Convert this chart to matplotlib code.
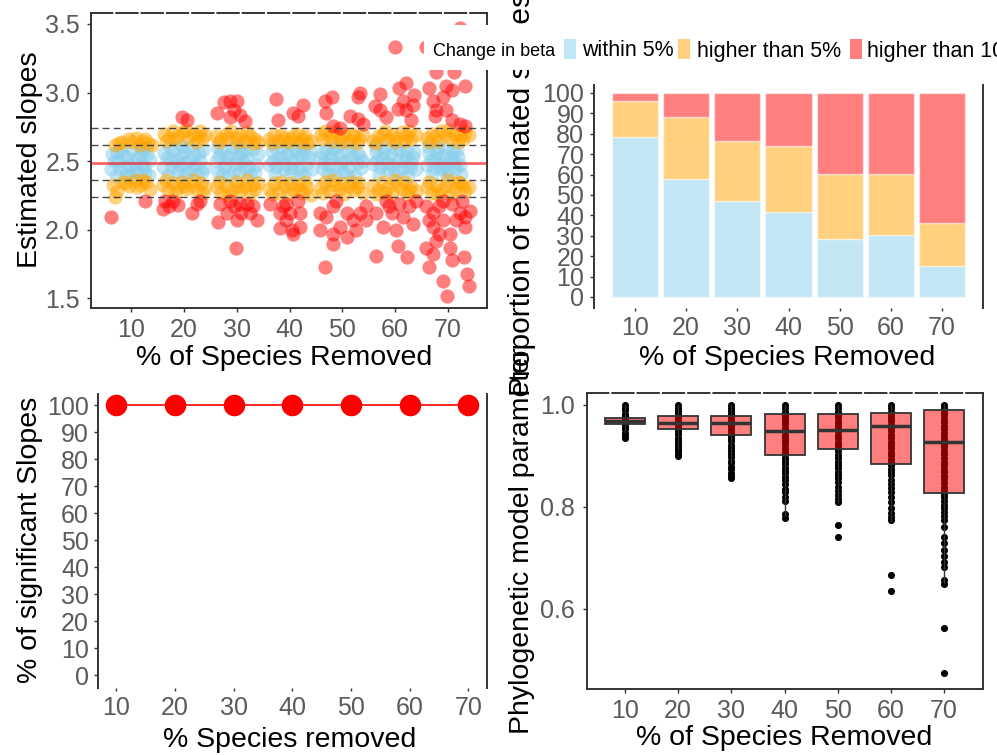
import matplotlib
matplotlib.use('Agg')
import matplotlib.pyplot as plt
from matplotlib.patches import Rectangle

plt.rcParams['font.family'] = ['Liberation Sans', 'DejaVu Sans']

# ---------------- data ----------------
removed = [10, 20, 30, 40, 50, 60, 70]

# panel A: estimated slopes (jittered x, slope)
slope_ref = 2.49
slope_bands = [2.24, 2.365, 2.615, 2.74]

blue_pts = [
    (6.1, 2.44), (6.4, 2.55), (7.2, 2.39), (7.6, 2.50), (8.1, 2.59), (8.8, 2.45), (9.3, 2.53), (9.9, 2.40),
    (10.2, 2.58), (10.8, 2.48), (11.3, 2.42), (11.9, 2.55), (12.4, 2.46), (12.9, 2.60), (13.3, 2.40), (13.6, 2.51),
    (6.8, 2.50), (7.9, 2.44), (8.6, 2.54), (9.6, 2.47), (10.5, 2.43), (11.1, 2.52), (12.0, 2.48), (12.7, 2.42),
    (13.1, 2.55), (7.3, 2.57), (11.8, 2.59), (9.0, 2.40),
    (16.0, 2.46), (16.3, 2.56), (17.0, 2.40), (17.5, 2.51), (18.2, 2.59), (18.7, 2.43), (19.4, 2.54), (19.8, 2.39),
    (20.3, 2.49), (20.9, 2.60), (21.4, 2.44), (21.9, 2.55), (22.5, 2.41), (23.0, 2.50), (23.6, 2.58), (24.0, 2.45),
    (16.7, 2.52), (17.8, 2.46), (18.5, 2.51), (19.1, 2.47), (20.0, 2.57), (20.6, 2.42), (21.2, 2.51), (22.1, 2.47),
    (22.8, 2.56), (23.4, 2.42), (17.3, 2.60), (19.6, 2.61),
    (26.0, 2.50), (26.4, 2.42), (27.0, 2.58), (27.5, 2.46), (28.1, 2.54), (28.6, 2.39), (29.2, 2.60), (29.8, 2.48),
    (30.4, 2.42), (30.9, 2.56), (31.5, 2.45), (32.0, 2.52), (32.6, 2.40), (33.1, 2.59), (33.7, 2.47), (34.0, 2.55),
    (26.7, 2.54), (27.3, 2.40), (27.9, 2.49), (28.9, 2.55), (29.5, 2.43), (30.2, 2.53), (31.2, 2.50), (31.8, 2.58),
    (32.3, 2.46), (33.4, 2.42), (26.2, 2.60), (30.7, 2.61),
    (36.2, 2.47), (36.6, 2.57), (37.2, 2.41), (37.8, 2.52), (38.3, 2.60), (38.9, 2.44), (39.5, 2.55), (40.0, 2.40),
    (40.6, 2.50), (41.1, 2.59), (41.7, 2.45), (42.2, 2.54), (42.8, 2.40), (43.3, 2.49), (43.9, 2.58), (44.2, 2.44),
    (36.9, 2.50), (37.5, 2.46), (38.6, 2.52), (39.2, 2.48), (39.8, 2.59), (40.3, 2.45), (41.4, 2.52), (42.0, 2.42),
    (42.5, 2.58), (43.6, 2.53), (37.0, 2.61), (41.9, 2.61),
    (45.8, 2.52), (46.3, 2.44), (46.9, 2.59), (47.4, 2.47), (48.0, 2.55), (48.6, 2.40), (49.1, 2.61), (49.7, 2.49),
    (50.2, 2.42), (50.8, 2.57), (51.3, 2.46), (51.9, 2.53), (52.4, 2.39), (53.0, 2.56), (53.5, 2.45), (54.0, 2.50),
    (46.1, 2.56), (46.6, 2.49), (47.7, 2.52), (48.3, 2.59), (48.9, 2.46), (49.4, 2.54), (50.5, 2.50), (51.1, 2.40),
    (51.6, 2.60), (52.7, 2.49), (53.3, 2.53), (47.2, 2.41),
    (55.9, 2.48), (56.3, 2.57), (56.9, 2.41), (57.5, 2.52), (58.1, 2.60), (58.6, 2.44), (59.2, 2.55), (59.8, 2.40),
    (60.3, 2.50), (60.9, 2.58), (61.4, 2.45), (62.0, 2.53), (62.5, 2.39), (63.1, 2.49), (63.6, 2.57), (64.0, 2.44),
    (56.6, 2.51), (57.2, 2.46), (57.8, 2.56), (58.4, 2.49), (59.5, 2.47), (60.1, 2.59), (60.6, 2.43), (61.7, 2.50),
    (62.3, 2.58), (62.8, 2.45), (63.4, 2.53), (56.1, 2.61),
    (66.0, 2.47), (66.4, 2.56), (67.0, 2.41), (67.6, 2.52), (68.2, 2.60), (68.7, 2.44), (69.3, 2.54), (69.8, 2.39),
    (70.4, 2.50), (70.9, 2.58), (71.5, 2.45), (72.0, 2.53), (72.4, 2.41),
    (66.7, 2.51), (67.3, 2.45), (67.9, 2.56), (68.5, 2.49), (69.0, 2.46), (69.6, 2.59), (70.1, 2.43), (70.7, 2.53),
    (71.2, 2.49), (71.8, 2.58), (66.2, 2.61), (72.2, 2.47),
]

orange_pts = [
    (7.0, 2.62), (8.3, 2.64), (9.6, 2.66), (10.9, 2.67), (12.1, 2.65), (13.2, 2.63), (11.6, 2.62), (14.0, 2.62),
    (7.7, 2.63), (10.2, 2.64), (12.7, 2.66),
    (6.5, 2.33), (7.3, 2.28), (8.4, 2.35), (9.6, 2.32), (10.7, 2.36), (11.8, 2.33), (12.9, 2.35), (13.6, 2.30), (7.0, 2.24),
    (9.0, 2.34), (11.2, 2.31), (12.3, 2.36),
    (16.2, 2.70), (17.1, 2.67), (18.0, 2.72), (18.9, 2.68), (19.8, 2.71), (20.8, 2.67), (21.7, 2.70), (22.6, 2.68), (23.5, 2.66), (24.0, 2.69),
    (16.6, 2.65), (18.4, 2.66), (20.3, 2.73), (22.2, 2.64), (23.1, 2.72),
    (16.1, 2.33), (17.0, 2.29), (17.9, 2.34), (18.8, 2.31), (19.7, 2.35), (20.6, 2.30), (21.5, 2.33), (22.4, 2.29), (23.3, 2.34), (24.0, 2.31),
    (16.6, 2.36), (18.3, 2.27), (20.1, 2.32), (21.9, 2.36), (23.7, 2.27),
    (26.1, 2.68), (27.0, 2.66), (28.0, 2.70), (28.9, 2.72), (29.8, 2.67), (30.7, 2.69), (31.6, 2.65), (32.5, 2.68), (33.4, 2.66), (34.0, 2.64),
    (26.6, 2.64), (28.4, 2.67), (30.2, 2.64), (32.0, 2.71), (33.0, 2.63),
    (26.2, 2.31), (27.1, 2.27), (28.0, 2.33), (28.9, 2.29), (29.8, 2.35), (30.7, 2.28), (31.6, 2.32), (32.5, 2.26), (33.4, 2.30), (34.0, 2.34),
    (26.6, 2.35), (28.4, 2.25), (30.2, 2.31), (32.0, 2.36), (33.0, 2.33),
    (36.2, 2.66), (37.1, 2.69), (38.0, 2.65), (38.9, 2.67), (39.8, 2.64), (40.7, 2.68), (41.6, 2.70), (42.5, 2.66), (43.4, 2.63), (44.0, 2.65),
    (36.6, 2.63), (38.4, 2.69), (40.2, 2.66), (42.0, 2.64), (43.0, 2.68),
    (36.2, 2.30), (37.1, 2.34), (38.0, 2.27), (38.9, 2.32), (39.8, 2.26), (40.7, 2.30), (41.6, 2.33), (42.5, 2.27), (43.4, 2.31), (44.0, 2.25),
    (36.6, 2.26), (38.4, 2.35), (40.2, 2.34), (42.0, 2.29), (43.0, 2.35),
    (45.9, 2.70), (46.8, 2.72), (47.7, 2.68), (48.6, 2.71), (49.5, 2.67), (50.4, 2.70), (51.3, 2.65), (52.2, 2.68), (53.1, 2.66), (53.9, 2.69),
    (46.3, 2.66), (48.1, 2.65), (50.0, 2.64), (51.8, 2.70), (52.7, 2.63),
    (45.9, 2.31), (46.8, 2.35), (47.7, 2.28), (48.6, 2.33), (49.5, 2.30), (50.4, 2.26), (51.3, 2.32), (52.2, 2.29), (53.1, 2.34), (53.9, 2.27),
    (46.3, 2.27), (48.1, 2.36), (50.0, 2.34), (51.8, 2.35), (52.7, 2.31),
    (55.9, 2.65), (56.8, 2.68), (57.7, 2.70), (58.6, 2.66), (59.5, 2.69), (60.4, 2.67), (61.3, 2.71), (62.2, 2.68), (63.1, 2.66), (64.0, 2.69),
    (56.3, 2.63), (58.1, 2.72), (60.0, 2.64), (61.8, 2.65), (62.7, 2.72),
    (55.9, 2.33), (56.8, 2.29), (57.7, 2.35), (58.6, 2.31), (59.5, 2.27), (60.4, 2.33), (61.3, 2.30), (62.2, 2.26), (63.1, 2.32), (64.0, 2.28),
    (56.3, 2.26), (58.1, 2.27), (60.0, 2.36), (61.8, 2.35), (62.7, 2.29),
    (66.0, 2.67), (66.9, 2.70), (67.8, 2.68), (68.7, 2.72), (69.6, 2.69), (70.5, 2.66), (71.4, 2.70), (72.3, 2.68), (73.2, 2.71), (74.0, 2.69),
    (66.4, 2.64), (68.2, 2.65), (70.0, 2.73), (71.9, 2.64), (72.8, 2.66),
    (66.0, 2.31), (66.9, 2.27), (67.8, 2.33), (68.7, 2.29), (69.6, 2.32), (70.5, 2.26), (71.4, 2.30), (72.3, 2.34), (73.2, 2.28), (74.0, 2.31),
    (66.4, 2.35), (68.2, 2.26), (70.0, 2.36), (71.9, 2.35), (72.8, 2.32),
]

red_pts = [
    (6.2, 2.09), (12.6, 2.21),
    (19.6, 2.82), (20.5, 2.80), (16.4, 2.21), (17.1, 2.17), (18.0, 2.21), (18.9, 2.18), (21.5, 2.12), (22.4, 2.19),
    (23.0, 2.21), (16.1, 2.15),
    (26.2, 2.85), (27.5, 2.93), (28.7, 2.94), (30.0, 2.94), (29.4, 2.87), (28.7, 2.82), (30.6, 2.84), (31.6, 2.79),
    (29.9, 1.87), (26.5, 2.06), (28.1, 2.12), (29.4, 2.17), (30.6, 2.19), (30.0, 2.07), (32.5, 2.12), (33.8, 2.07),
    (31.9, 2.19), (26.8, 2.19), (28.7, 2.21), (33.1, 2.17), (30.9, 2.12),
    (37.5, 2.95), (37.8, 2.80), (40.7, 2.85), (42.6, 2.91), (41.6, 2.83), (36.3, 2.19), (38.2, 2.12), (39.4, 2.07),
    (38.2, 2.01), (40.7, 1.97), (42.0, 2.02), (40.1, 2.12), (41.6, 2.21), (42.0, 2.12), (39.4, 2.19), (40.4, 2.00),
    (38.8, 2.17),
    (46.7, 2.94), (48.0, 2.97), (46.9, 2.85), (48.2, 2.76), (49.5, 2.74), (51.4, 2.83), (53.0, 2.81), (53.3, 3.00),
    (53.0, 2.97), (53.9, 2.77), (46.7, 1.73), (48.2, 1.90), (50.8, 1.95), (45.7, 2.00), (46.9, 2.09), (48.2, 2.17),
    (48.8, 2.21), (50.8, 2.12), (52.0, 2.07), (53.3, 2.12), (52.6, 2.00), (49.5, 2.02), (54.5, 2.17), (45.7, 2.12),
    (48.2, 1.97),
    (57.1, 2.99), (56.1, 2.90), (57.1, 2.87), (58.3, 2.82), (60.5, 2.88), (61.5, 2.94), (62.1, 3.07), (60.8, 3.03),
    (63.6, 2.98), (63.3, 2.91), (62.1, 2.87), (63.1, 2.80), (56.4, 1.81), (60.6, 1.88), (62.3, 1.80), (54.5, 2.07),
    (56.4, 2.12), (57.7, 2.02), (58.9, 2.17), (60.2, 2.00), (61.5, 2.09), (62.7, 2.17), (63.4, 2.04), (58.3, 2.21),
    (60.8, 2.19), (64.0, 2.21), (59.5, 2.12), (59.9, 3.33),
    (72.2, 3.47), (65.8, 3.33), (67.8, 3.15), (71.2, 3.15), (66.5, 3.03), (69.6, 3.05), (70.8, 3.02), (73.3, 3.05),
    (67.1, 2.94), (69.0, 2.97), (69.6, 2.87), (67.8, 2.87), (67.5, 2.83), (72.2, 2.77), (70.8, 2.80), (73.3, 2.76),
    (65.9, 2.17), (67.2, 2.12), (69.0, 2.21), (70.8, 2.19), (72.7, 2.21), (74.1, 2.14), (67.2, 2.02), (68.4, 1.97),
    (65.9, 1.87), (67.2, 1.82), (66.5, 1.73), (69.0, 1.63), (69.9, 1.52), (70.8, 1.78), (73.0, 1.80), (73.7, 1.68),
    (74.0, 1.59), (70.3, 1.97), (71.5, 2.07), (73.3, 2.02), (69.0, 2.07), (67.8, 1.92), (70.3, 1.87), (72.2, 2.12),
    (66.5, 2.07), (68.4, 2.17), (73.3, 2.09),
]

# panel B: proportion of estimated slopes (%)
pct_within5 = [78.3, 57.8, 47.2, 41.7, 28.4, 30.2, 15.0]
pct_higher5 = [17.9, 30.4, 29.3, 32.2, 32.1, 30.3, 21.4]
pct_higher10 = [3.8, 11.8, 23.5, 26.1, 39.5, 39.5, 63.6]

# panel C: % of significant slopes
pct_signif = [100, 100, 100, 100, 100, 100, 100]

# panel D: phylogenetic model parameter
lam_q1 = [0.963, 0.952, 0.941, 0.902, 0.913, 0.884, 0.827]
lam_med = [0.969, 0.965, 0.965, 0.948, 0.951, 0.959, 0.927]
lam_q3 = [0.974, 0.978, 0.978, 0.982, 0.982, 0.985, 0.991]
lam_lo = [0.947, 0.913, 0.886, 0.782, 0.810, 0.773, 0.650]
lam_hi = [1.0, 1.0, 1.0, 1.0, 1.0, 1.0, 1.0]
lam_pts = [
    [1.0, 0.994, 0.99, 0.983, 0.979, 0.972, 0.968, 0.963, 0.957, 0.953, 0.946, 0.941, 0.935],
    [1.0, 0.995, 0.989, 0.984, 0.977, 0.972, 0.966, 0.961, 0.955, 0.948, 0.943, 0.936, 0.931, 0.925,
     0.919, 0.914, 0.909, 0.904, 0.9],
    [1.0, 0.994, 0.988, 0.983, 0.977, 0.97, 0.965, 0.959, 0.952, 0.947, 0.94, 0.934, 0.929, 0.922,
     0.916, 0.91, 0.903, 0.898, 0.891, 0.886, 0.879, 0.874, 0.866, 0.861, 0.857],
    [1.0, 0.994, 0.987, 0.981, 0.975, 0.968, 0.962, 0.955, 0.949, 0.942, 0.936, 0.929, 0.923, 0.916,
     0.91, 0.903, 0.897, 0.89, 0.884, 0.877, 0.871, 0.866, 0.859, 0.852, 0.846, 0.836, 0.829, 0.82,
     0.812, 0.787, 0.779],
    [1.0, 0.994, 0.987, 0.98, 0.974, 0.967, 0.961, 0.954, 0.948, 0.941, 0.935, 0.928, 0.922, 0.915,
     0.909, 0.902, 0.896, 0.889, 0.882, 0.876, 0.869, 0.862, 0.856, 0.849, 0.84, 0.831, 0.824, 0.816,
     0.809, 0.765, 0.742],
    [1.0, 0.994, 0.987, 0.981, 0.974, 0.968, 0.961, 0.954, 0.948, 0.941, 0.935, 0.928, 0.921, 0.915,
     0.908, 0.902, 0.895, 0.888, 0.882, 0.875, 0.869, 0.862, 0.853, 0.846, 0.837, 0.829, 0.82, 0.809,
     0.797, 0.789, 0.781, 0.774, 0.666, 0.635],
    [1.0, 0.994, 0.987, 0.98, 0.973, 0.966, 0.959, 0.952, 0.945, 0.938, 0.931, 0.924, 0.917, 0.91,
     0.903, 0.896, 0.889, 0.882, 0.875, 0.868, 0.861, 0.854, 0.847, 0.84, 0.833, 0.826, 0.819, 0.811,
     0.804, 0.797, 0.79, 0.782, 0.775, 0.761, 0.742, 0.729, 0.716, 0.703, 0.693, 0.683, 0.657, 0.649,
     0.562, 0.474],
]

bar_cols = ['skyblue', 'orange', 'red']
legend_labels = ['within 5%', 'higher than 5%', 'higher than 10%']

# ---------------- figure ----------------
W, H = 997, 755
fig = plt.figure(figsize=(W / 100, H / 100), dpi=100)

spine_c = '#333333'
tick_c = '#5a5a5a'


def px_axes(l, t, r, b):
    return fig.add_axes([l / W, 1 - b / H, (r - l) / W, (b - t) / H])


def style(ax, ypad, xpad=4):
    ax.tick_params(axis='both', length=3, width=1, color=spine_c, labelcolor=tick_c, labelsize=18)
    ax.tick_params(axis='y', pad=ypad)
    ax.tick_params(axis='x', pad=xpad)
    for s in ax.spines.values():
        s.set_color(spine_c)
        s.set_linewidth(1.4)
    ax.set_xticks(removed)
    ax.set_facecolor('none')


def ftext(x, y, s, **kw):
    fig.text(x / W, 1 - y / H, s, **kw)


# A: estimated slopes
ax1 = px_axes(91, 13, 487, 308)
ax1.scatter([p[0] for p in blue_pts], [p[1] for p in blue_pts], s=105, color='skyblue', alpha=0.5, lw=0)
ax1.scatter([p[0] for p in orange_pts], [p[1] for p in orange_pts], s=105, color='orange', alpha=0.5, lw=0)
ax1.scatter([p[0] for p in red_pts], [p[1] for p in red_pts], s=105, color='red', alpha=0.5, lw=0)
ax1.axhline(slope_ref, color='red', lw=2, alpha=0.6)
for v in slope_bands:
    ax1.axhline(v, color='#333333', lw=1, ls=(0, (5, 3)), alpha=0.9)
ax1.set_xlim(2.4, 77.4)
ax1.set_ylim(1.43, 3.58)
ax1.set_yticks([1.5, 2.0, 2.5, 3.0, 3.5])
style(ax1, ypad=5)
ax1.spines['top'].set_linestyle((0, (11, 2)))

# B: proportion bars
ax2 = px_axes(594, 85, 983, 308)
bottom = [0] * 7
for vals, c in zip([pct_within5, pct_higher5, pct_higher10], bar_cols):
    ax2.bar(removed, vals, width=9.0, bottom=bottom, color=c, alpha=0.5, edgecolor='white', lw=1)
    bottom = [b + v for b, v in zip(bottom, vals)]
ax2.set_xlim(2, 78)
ax2.set_ylim(-5.4, 103.9)
ax2.set_yticks(range(0, 101, 10))
style(ax2, ypad=4)
ax2.spines['top'].set_visible(False)
ax2.spines['bottom'].set_visible(False)
ax2.tick_params(axis='x', length=2)

# C: % significant slopes
ax3 = px_axes(98, 394, 487, 688)
ax3.plot(removed, pct_signif, color='red', lw=1.2, marker='o', ms=14.5, mec='red', mfc='red', clip_on=False)
ax3.set_xlim(6.9, 73.2)
ax3.set_ylim(-4.8, 104.1)
ax3.set_yticks(range(0, 101, 10))
style(ax3, ypad=3.5)
ax3.spines['top'].set_visible(False)
ax3.spines['bottom'].set_visible(False)
ax3.tick_params(axis='x', length=2)

# D: phylogenetic model parameter
ax4 = px_axes(587, 393, 983, 689)
for x, pts in zip(removed, lam_pts):
    ax4.scatter([x] * len(pts), pts, s=26, color='black', lw=0, zorder=1)
stats = []
for i in range(7):
    stats.append(dict(q1=lam_q1[i], med=lam_med[i], q3=lam_q3[i], whislo=lam_lo[i], whishi=lam_hi[i], fliers=[]))
ax4.bxp(stats, positions=removed, widths=7.5, patch_artist=True, showfliers=False, showcaps=False,
        boxprops=dict(facecolor=(1, 0, 0, 0.5), edgecolor=spine_c, lw=1.3),
        medianprops=dict(color=spine_c, lw=2.5),
        whiskerprops=dict(color=spine_c, lw=1), manage_ticks=False)
ax4.set_xlim(2.86, 77.3)
ax4.set_ylim(0.443, 1.0235)
ax4.set_yticks([0.6, 0.8, 1.0])
style(ax4, ypad=6)
ax4.spines['top'].set_linestyle((0, (11, 2)))

# axis titles
tkw = dict(fontsize=20.5, color='black', ha='center', va='center')
ftext(284, 358, '% of Species Removed', **tkw)
ftext(30, 160, 'Estimated slopes', rotation=90, **tkw)
ftext(787, 358, '% of Species Removed', **tkw)
ftext(522, 194, 'Proportion of estimated slopes', rotation=90, **dict(tkw, fontsize=21.5))
ftext(290, 740, '% Species removed', **tkw)
ftext(30, 540, '% of significant Slopes', rotation=90, **tkw)
ftext(784, 738, '% of Species Removed', **tkw)
ftext(522, 541, 'Phylogenetic model parameter', rotation=90, **tkw)

# legend (drawn on top, white background)
fig.add_artist(Rectangle((424 / W, 1 - 70 / H), (1000 - 424) / W, 45 / H, transform=fig.transFigure,
                         facecolor='white', edgecolor='none', zorder=10))
ftext(433, 51, 'Change in beta', fontsize=13, va='center', zorder=11)
for kx, tx, c, lab in zip([564, 678, 850], [582, 697, 867], bar_cols, legend_labels):
    fig.add_artist(Rectangle((kx / W, 1 - 59 / H), 12 / W, 20 / H, transform=fig.transFigure,
                             facecolor=c, alpha=0.5, edgecolor='none', zorder=11))
    ftext(tx, 51, lab, fontsize=15.5, va='center', zorder=11)

fig.savefig('out.png', dpi=100)
